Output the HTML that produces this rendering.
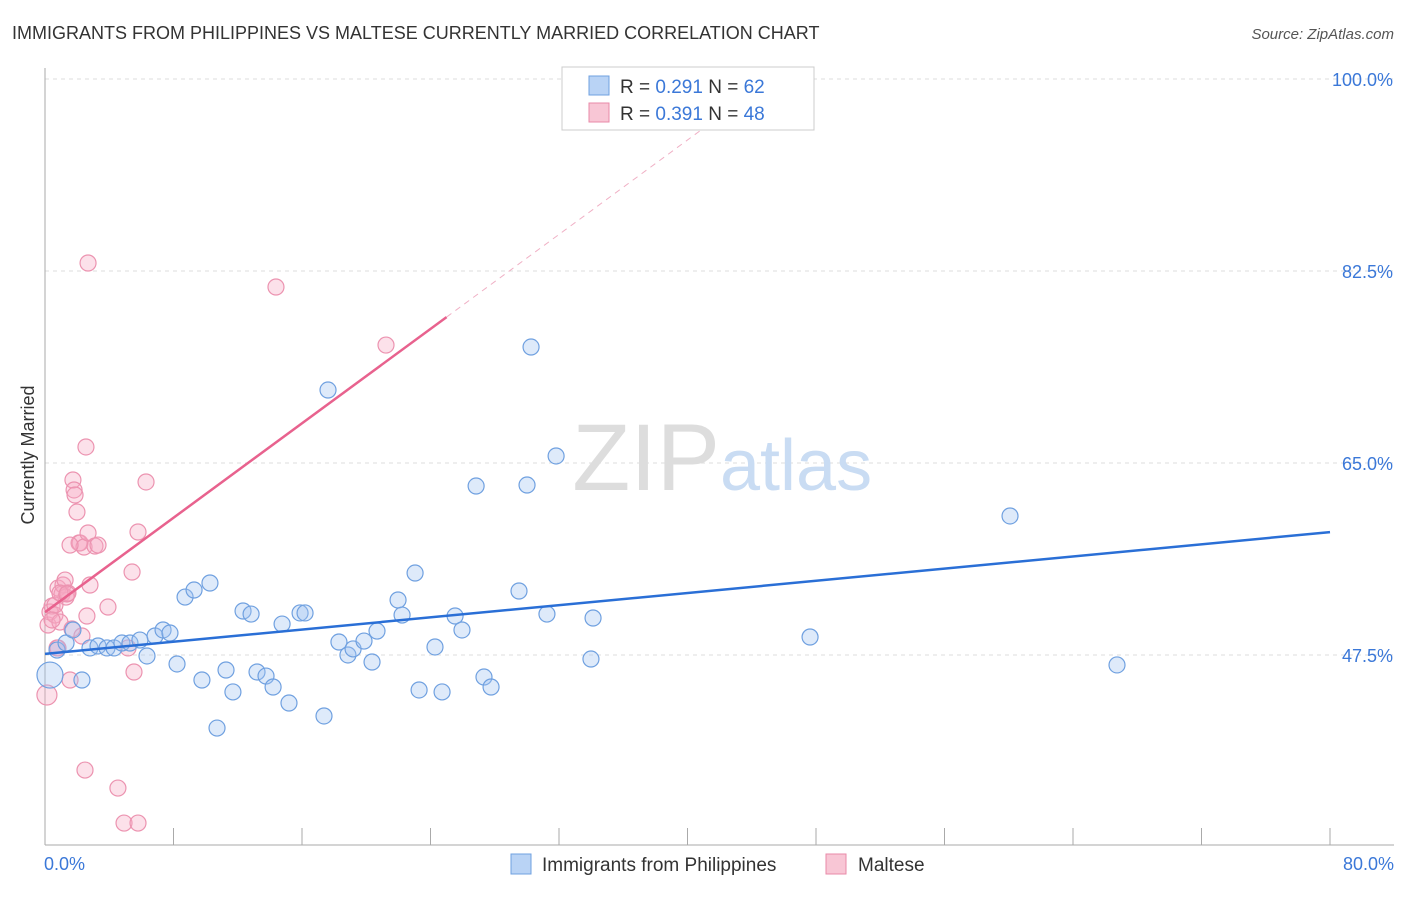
<!DOCTYPE html>
<html><head><meta charset="utf-8"><style>
body{margin:0;background:#fff;font-family:"Liberation Sans",sans-serif;}
svg text{font-family:"Liberation Sans",sans-serif;}
</style></head><body>
<svg width="1406" height="892" xmlns="http://www.w3.org/2000/svg">
<text x="12" y="39" font-size="18" fill="#333">IMMIGRANTS FROM PHILIPPINES VS MALTESE CURRENTLY MARRIED CORRELATION CHART</text>
<text x="1394" y="39" font-size="15" fill="#555" font-style="italic" text-anchor="end">Source: ZipAtlas.com</text>
<text x="34" y="455" font-size="18" fill="#333" transform="rotate(-90 34 455)" text-anchor="middle">Currently Married</text>
<g id="grid"></g>
<g id="axes"></g>
<text x="720" y="490" font-size="95" fill="#ddd" text-anchor="end" font-family="Liberation Serif">ZIP</text>
<text x="720" y="490" font-size="72" fill="#c9dcf3">atlas</text>
<g id="pts"></g>
<g id="lines"></g>
<g>
<rect x="562" y="67" width="252" height="63" fill="#fff" stroke="#ccc"/>
<rect x="589" y="76" width="20" height="19" fill="#b9d3f5" stroke="#6fa0e0"/>
<rect x="589" y="103" width="20" height="19" fill="#f8c6d5" stroke="#e98aa8"/>
<text x="620" y="93" font-size="19" fill="#333">R = <tspan fill="#3b78d8">0.291</tspan>   N = <tspan fill="#3b78d8">62</tspan></text>
<text x="620" y="120" font-size="19" fill="#333">R = <tspan fill="#3b78d8">0.391</tspan>   N = <tspan fill="#3b78d8">48</tspan></text>
</g>
<g>
<rect x="511" y="854" width="20" height="20" fill="#b9d3f5" stroke="#6fa0e0"/>
<text x="542" y="871" font-size="19" fill="#333">Immigrants from Philippines</text>
<rect x="826" y="854" width="20" height="20" fill="#f8c6d5" stroke="#e98aa8"/>
<text x="858" y="871" font-size="19" fill="#333">Maltese</text>
</g>
</svg>
<script>
const blueX=[0.31,0.75,1.31,2.30,1.74,2.80,3.30,3.86,4.30,4.79,5.29,5.91,6.35,6.85,7.35,7.78,8.22,8.72,9.28,9.77,10.27,10.71,11.27,11.70,12.33,12.83,13.20,13.76,14.20,14.76,15.19,15.88,16.19,17.37,17.62,18.30,18.86,19.18,19.86,20.36,20.67,21.98,22.23,23.04,23.29,24.28,24.72,25.53,25.96,26.84,27.33,27.77,29.51,30.01,30.26,31.25,31.82,33.99,34.12,47.63,60.08,66.74];
const blueY=[45.67,47.95,48.59,45.22,49.78,48.14,48.32,48.14,48.14,48.59,48.59,48.86,47.41,49.23,49.78,49.50,46.68,52.78,53.42,45.22,54.06,40.84,46.13,44.13,51.51,51.23,45.95,45.58,44.58,50.32,43.12,51.33,51.33,41.94,71.65,48.68,47.50,48.05,48.77,46.86,49.68,52.51,51.14,54.97,44.31,48.23,44.13,51.05,49.78,62.90,45.49,44.58,53.33,62.99,75.57,51.23,65.64,47.13,50.87,49.14,60.17,46.59];
const pinkX=[0.12,0.19,0.31,0.44,0.62,0.75,0.81,0.93,1.06,1.12,1.25,1.31,1.43,1.56,1.68,1.74,1.81,1.87,1.99,2.12,2.18,2.30,2.43,2.49,2.55,2.61,2.68,2.68,2.80,3.11,3.30,3.92,4.54,4.92,5.17,5.42,5.54,5.79,5.79,6.29,14.38,21.23,0.62,0.93,0.44,1.37,0.81,1.56];
const pinkY=[43.85,50.23,51.42,51.96,51.14,48.14,53.60,50.50,53.06,53.88,54.33,52.78,53.15,45.22,49.87,63.45,62.54,62.08,60.53,57.71,57.71,49.23,57.34,37.01,66.46,51.05,58.62,83.23,53.88,57.43,57.52,51.87,35.37,32.18,48.14,55.06,45.95,32.18,58.71,63.27,81.04,75.75,52.05,53.15,50.69,53.06,48.14,57.52];
const yTicks=[47.5,65.0,82.5,100.0];
const xTickVals=[0,8,16,24,32,40,48,56,64,72,80];
const blueTrend=[47.6,58.7];
const pinkTrend=[51.4,78.3,25.0];
const NS="http://www.w3.org/2000/svg";
const sx=v=>45+v*(1285/80);
const sy=v=>79+(100-v)*10.971;
function mk(tag,attrs,parent){const e=document.createElementNS(NS,tag);for(const k in attrs)e.setAttribute(k,attrs[k]);document.getElementById(parent).appendChild(e);return e;}
yTicks.forEach(t=>{
  const l=mk('line',{x1:45,x2:1394,y1:sy(t),y2:sy(t),stroke:'#ddd','stroke-dasharray':'4,4'},'grid');
  
  
  const tx=mk('text',{x:1393,y:sy(t)+7,'font-size':18,fill:'#3b78d8','text-anchor':'end'},'grid');
  tx.textContent=t.toFixed(1)+'%';
  
  
});
const ax=mk('line',{x1:45,x2:45,y1:68,y2:845,stroke:'#aaa'},'axes');


const bx=mk('line',{x1:45,x2:1394,y1:845,y2:845,stroke:'#aaa'},'axes');


xTickVals.forEach(t=>{
  const l=mk('line',{x1:sx(t),x2:sx(t),y1:828,y2:845,stroke:'#aaa'},'axes');
  
  
});
[[0,'start'],[80,'end']].forEach(([v,a])=>{
  const tx=mk('text',{x:v===0?44:1394,y:870,'font-size':18,fill:'#3b78d8','text-anchor':a},'axes');
  tx.textContent=v.toFixed(1)+'%';
  
  
});
pinkX.forEach((x,i)=>{
  const c=mk('circle',{cx:sx(x),cy:sy(pinkY[i]),r:i===0?10:8,fill:'rgba(245,170,195,0.35)',stroke:'#ec93b0','stroke-width':1.2},'pts');
  
  
});
blueX.forEach((x,i)=>{
  const c=mk('circle',{cx:sx(x),cy:sy(blueY[i]),r:i===0?13:8,fill:'rgba(160,195,240,0.35)',stroke:'#6fa0e0','stroke-width':1.2},'pts');
  
  
});
const bl=mk('line',{x1:sx(0),y1:sy(blueTrend[0]),x2:sx(80),y2:sy(blueTrend[1]),stroke:'#2a6fd6','stroke-width':2.5},'lines');


const slope=(pinkTrend[1]-pinkTrend[0])/pinkTrend[2];
const xEnd=(100-pinkTrend[0])/slope;
const pd=mk('line',{x1:sx(pinkTrend[2]),y1:sy(pinkTrend[1]),x2:sx(xEnd),y2:sy(100),stroke:'#f0b0c5','stroke-width':1,'stroke-dasharray':'6,5'},'lines');


const pl=mk('line',{x1:sx(0),y1:sy(pinkTrend[0]),x2:sx(pinkTrend[2]),y2:sy(pinkTrend[1]),stroke:'#e8628e','stroke-width':2.5},'lines');


</script>
</body></html>
